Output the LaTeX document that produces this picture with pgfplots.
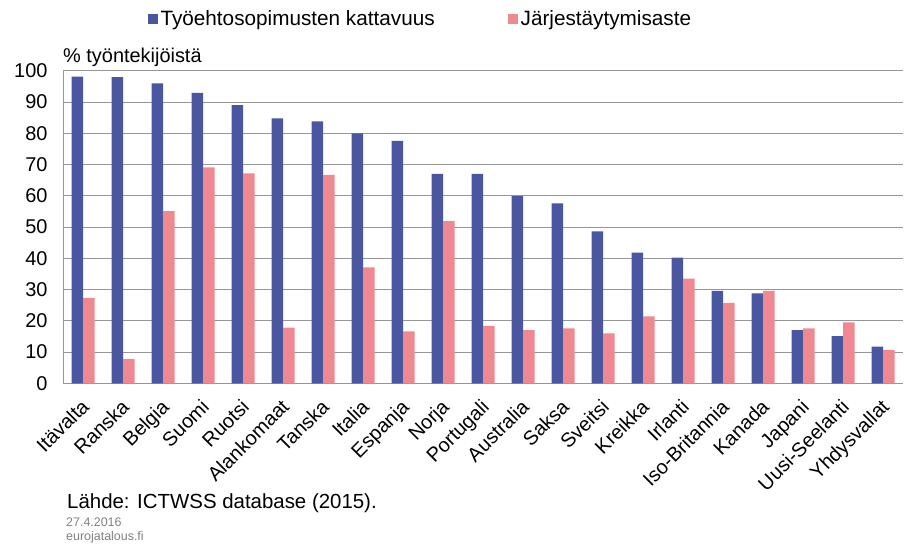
\documentclass[border=0pt]{standalone}
\usepackage{pgfplots}
\pgfplotsset{compat=1.18}
\usepackage{fontspec}
\setmainfont{Liberation Sans}
\definecolor{cblue}{RGB}{75,86,160}
\definecolor{cpink}{RGB}{240,136,143}
\definecolor{cgrid}{RGB}{150,150,150}
\begin{document}
\begin{tikzpicture}
\path[use as bounding box] (-63bp,-161.7bp) rectangle (842bp,383.3bp);
\begin{axis}[
  scale only axis,
  clip=false,
  width=840bp, height=312.5bp,
  ymin=0, ymax=100,
  ytick={0,10,...,100},
  xmin=-0.5, xmax=20.5,
  xtick={0,...,20},
  xticklabels={Itävalta,Ranska,Belgia,Suomi,Ruotsi,Alankomaat,Tanska,Italia,Espanja,Norja,Portugali,Australia,Saksa,Sveitsi,Kreikka,Irlanti,Iso-Britannia,Kanada,Japani,Uusi-Seelanti,Yhdysvallat},
  xticklabel style={xshift=-3bp, yshift=-13bp, rotate=45, anchor=north east, inner sep=1bp},
  yticklabel style={xshift=-12bp},
  major tick length=0pt,
  ymajorgrids,
  grid style={cgrid, line width=1bp},
  axis x line*=bottom,
  axis y line*=left,
  axis line style={cgrid, line width=1bp},
  separate axis lines,
  ybar=0pt,
  bar width=11.5bp,
  ticklabel style={font=\fontsize{20}{22}\selectfont},
  /pgf/number format/assume math mode=true,
  legend style={at={(0.426,1.166)}, anchor=center, draw=none, fill=none,
    legend columns=2, font=\fontsize{20.8}{22}\selectfont,
    nodes={inner sep=3bp},
    /tikz/every even column/.append style={column sep=70bp}},
  legend image code/.code={\fill[#1] (0bp,-5bp) rectangle (10bp,5bp);},
]
\addplot[fill=cblue, draw=none] coordinates {
(0,98.1) (1,98) (2,96) (3,92.9) (4,89) (5,84.8) (6,83.8) (7,80) (8,77.6) (9,67)
(10,67) (11,59.9) (12,57.6) (13,48.6) (14,41.8) (15,40.2) (16,29.6) (17,28.8) (18,17) (19,15.1) (20,11.7)};
\addplot[fill=cpink, draw=none] coordinates {
(0,27.3) (1,7.7) (2,55.1) (3,69.1) (4,67.2) (5,17.8) (6,66.7) (7,37.1) (8,16.6) (9,51.9)
(10,18.4) (11,17) (12,17.6) (13,16) (14,21.4) (15,33.5) (16,25.7) (17,29.6) (18,17.6) (19,19.5) (20,10.7)};
\legend{Työehtosopimusten kattavuus, Järjestäytymisaste}
\node[anchor=west, inner sep=0, font=\fontsize{20}{22}\selectfont] at (rel axis cs:0,1.044) {\% työntekijöistä};
\end{axis}
\node[anchor=west, inner sep=0, font=\fontsize{20.5}{22}\selectfont] at (4bp,-120bp) {Lähde: ICTWSS database (2015).};
\node[anchor=west, inner sep=0, text=gray, font=\fontsize{12.5}{14}\selectfont] at (3bp,-139bp) {27.4.2016};
\node[anchor=west, inner sep=0, text=gray, font=\fontsize{12.5}{14}\selectfont] at (3bp,-154bp) {eurojatalous.fi};
\end{tikzpicture}
\end{document}
